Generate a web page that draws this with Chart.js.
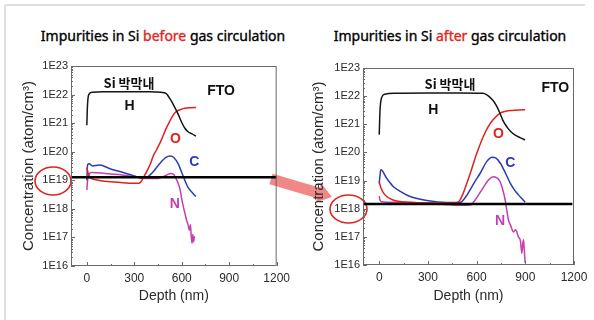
<!DOCTYPE html>
<html>
<head>
<meta charset="utf-8">
<script src="https://cdn.jsdelivr.net/npm/chart.js@4.4.1/dist/chart.umd.min.js"></script>
<style>
    body { margin: 0; width: 594px; height: 320px; background: #fff; position: relative; overflow: hidden; }
    .titulo { position: absolute; top: 26px; font: 400 14px "Noto Sans", "Liberation Sans", sans-serif; color: #000; white-space: nowrap; transform: translateX(-50%); line-height: 20px; -webkit-text-stroke: 0.35px #000; }
    .titulo span { color: #e5231b; -webkit-text-stroke: 0.35px #e5231b; }
    #grafico-antes { position: absolute; left: 0; top: 50px; }
    #grafico-depois { position: absolute; left: 295px; top: 50px; }
    #marcas { position: absolute; left: 0; top: 0; }
</style>
</head>
<body>
<svg id="marcas" width="594" height="320">
    <line x1="5" y1="5" x2="585" y2="5" stroke="#d4d4d4" stroke-width="1.5"/>
    <line x1="5" y1="5" x2="5" y2="320" stroke="#d4d4d4" stroke-width="1.5"/>
    <polygon points="272.6,173.7 320.2,187.7 321.4,183.4 332,197 315.8,202.6 317,198.3 269.4,184.3" fill="#ef7272" fill-opacity="0.85"/>
    <ellipse cx="53" cy="181" rx="18" ry="14" fill="none" stroke="#e2231f" stroke-width="1.6"/>
    <ellipse cx="348.5" cy="209" rx="18.5" ry="14" fill="none" stroke="#e2231f" stroke-width="1.6"/>
</svg>
<div class="titulo" style="left:163px">Impurities in Si <span>before</span> gas circulation</div>
<div class="titulo" style="left:450px">Impurities in Si <span>after</span> gas circulation</div>
<canvas id="grafico-antes" width="295" height="270"></canvas>
<canvas id="grafico-depois" width="299" height="270"></canvas>
<script>
// Eixos
const yTicks = [1e16, 1e17, 1e18, 1e19, 1e20, 1e21, 1e22, 1e23]
const yTickLabels = ['1E16', '1E17', '1E18', '1E19', '1E20', '1E21', '1E22', '1E23']
const xTicks = [0, 300, 600, 900, 1200]
const xTickLabels = ['0', '300', '600', '900', '1200']

// Antes (before) - profundidade (nm) e concentração (atom/cm3)
const antesDepthH = [0, 4, 12, 35, 100, 200, 300, 400, 470, 500, 530, 560, 580, 600, 620, 640, 665, 690]
const antesH = [8.5e20, 4.0e21, 1.0e22, 1.2e22, 1.26e22, 1.26e22, 1.26e22, 1.26e22, 1.2e22, 1.1e22, 6.5e21, 3.2e21, 1.9e21, 1.05e21, 6.6e20, 5.0e20, 4.2e20, 3.5e20]
const antesDepthO = [0, 8, 20, 50, 100, 200, 300, 330, 345, 360, 380, 400, 420, 440, 470, 500, 520, 540, 560, 590, 620, 660, 690]
const antesO = [2.8e19, 1.8e19, 1.26e19, 1.07e19, 9.5e18, 8.5e18, 7.8e18, 7.9e18, 9.3e18, 1.32e19, 2.1e19, 3.55e19, 7.1e19, 1.15e20, 2.5e20, 6.3e20, 1.05e21, 1.7e21, 2.4e21, 2.95e21, 3.3e21, 3.47e21, 3.55e21]
const antesDepthC = [0, 5, 15, 35, 80, 150, 250, 300, 350, 380, 420, 460, 500, 525, 550, 580, 610, 640, 670, 690]
const antesC = [1.0e19, 3.55e19, 3.8e19, 3.16e19, 3.4e19, 2.5e19, 1.74e19, 1.41e19, 1.17e19, 1.26e19, 2.0e19, 3.8e19, 6.3e19, 7.1e19, 6.3e19, 3.55e19, 1.35e19, 5.6e18, 3.55e18, 2.7e18]
const antesDepthN = [0, 5, 15, 30, 100, 200, 300, 350, 400, 450, 480, 510, 530, 550, 565, 580, 590, 600, 610, 620, 630, 640, 648, 655, 660, 665, 670, 675, 680]
const antesN = [4.6e18, 1.0e19, 1.66e19, 1.86e19, 1.78e19, 1.58e19, 1.32e19, 1.2e19, 1.15e19, 1.15e19, 1.32e19, 1.58e19, 1.74e19, 1.58e19, 1.12e19, 7.1e18, 4.6e18, 2.24e18, 1.2e18, 7.1e17, 4.1e17, 2.8e17, 1.8e17, 2.8e17, 1.12e17, 6.3e16, 1.26e17, 7.1e16, 1.12e17]
const antesRefDepth = [-100, 1200]
const antesRef = [1.27e19, 1.27e19]

// Depois (after)
const depoisDepthH = [0, 5, 15, 35, 100, 300, 500, 640, 670, 700, 720, 740, 765, 790, 810, 840, 870, 899]
const depoisH = [4.3e20, 3.2e21, 8.9e21, 1.17e22, 1.26e22, 1.29e22, 1.29e22, 1.26e22, 1.05e22, 7.1e21, 4.8e21, 2.8e21, 1.26e21, 7.6e20, 5.5e20, 4.0e20, 3.3e20, 2.8e20]
const depoisDepthO = [0, 10, 35, 86, 190, 300, 457, 490, 510, 540, 570, 600, 640, 670, 700, 745, 780, 817, 860, 899]
const depoisO = [8.9e18, 5.6e18, 3.1e18, 2.04e18, 1.7e18, 1.58e18, 1.58e18, 1.78e18, 2.8e18, 8.1e18, 2.63e19, 8.9e19, 3.55e20, 7.9e20, 1.41e21, 2.5e21, 2.9e21, 3.1e21, 3.24e21, 3.3e21]
const depoisDepthC = [0, 5, 10, 45, 86, 140, 190, 293, 416, 498, 530, 560, 590, 622, 663, 694, 720, 745, 775, 807, 835, 858, 880, 899]
const depoisC = [7.9e18, 1.58e19, 2.4e19, 1.23e19, 6.2e18, 3.8e18, 2.7e18, 1.95e18, 1.66e18, 1.66e18, 2.5e18, 4.7e18, 9.3e18, 1.82e19, 4.8e19, 6.8e19, 6.3e19, 4.2e19, 2.0e19, 8.1e18, 4.5e18, 3.1e18, 2.24e18, 1.7e18]
const depoisDepthN = [0, 5, 15, 100, 200, 300, 400, 457, 500, 560, 591, 632, 673, 704, 730, 745, 760, 776, 786, 796, 810, 827, 840, 858, 870, 879, 885, 889, 894, 899]
const depoisN = [2.8e18, 2.0e18, 1.78e18, 1.7e18, 1.66e18, 1.58e18, 1.41e18, 1.35e18, 1.32e18, 1.35e18, 2.04e18, 4.7e18, 1.05e19, 1.38e19, 1.2e19, 9.1e18, 5.0e18, 2.04e18, 8.9e17, 4.0e17, 2.5e17, 1.5e17, 1.78e17, 1.0e17, 7.1e16, 2.6e16, 6.3e16, 7.9e16, 3.2e16, 1.2e16]
const depoisRefDepth = [-100, 1190]
const depoisRef = [1.48e18, 1.48e18]

const cores = { H: '#151515', O: '#e3201b', C: '#2b3cb5', N: '#c23fae', ref: '#000000' }

function pontos(xs, ys) {
    return xs.map((x, i) => ({ x: x, y: ys[i] }))
}

function serie(xs, ys, cor, largura) {
    return {
        data: pontos(xs, ys),
        borderColor: cor,
        borderWidth: largura || 1.5,
        showLine: true,
        pointRadius: 0,
        cubicInterpolationMode: 'monotone'
    }
}

// Moldura com ticks para dentro + rótulos (H, O, C, N...)
const molduraPlugin = {
    id: 'moldura',
    afterDatasetsDraw(chart, args, opts) {
        const { ctx, chartArea: a, scales: { x, y } } = chart
        ctx.save()
        ctx.strokeStyle = '#6a6a6a'
        ctx.lineWidth = 1
        ctx.strokeRect(a.left + 0.5, a.top + 0.5, a.right - a.left - 1, a.bottom - a.top - 1)
        ctx.beginPath()
        for (let v = 0; v <= 1200; v += 150) {
            const px = Math.round(x.getPixelForValue(v)) + 0.5
            const len = v % 300 === 0 ? 4 : 2
            ctx.moveTo(px, a.bottom)
            ctx.lineTo(px, a.bottom - len)
        }
        for (let e = 16; e < 23; e++) {
            for (let m = 1; m < 10; m++) {
                const py = Math.round(y.getPixelForValue(m * Math.pow(10, e))) + 0.5
                const len = m === 1 ? 4 : 2
                ctx.moveTo(a.left, py)
                ctx.lineTo(a.left + len, py)
            }
        }
        ctx.stroke()

        ctx.textAlign = 'center'
        ctx.textBaseline = 'middle'
        opts.itens.forEach(item => {
            ctx.fillStyle = item.cor
            ctx.font = item.fonte
            ctx.fillText(item.texto, x.getPixelForValue(item.x), y.getPixelForValue(item.y))
        })
        ctx.restore()
    }
}

function opcoes(cfg) {
    return {
        responsive: false,
        animation: false,
        devicePixelRatio: 1,
        layout: { padding: { top: cfg.topo, right: cfg.direita, left: 0, bottom: 0 } },
        plugins: {
            legend: { display: false },
            tooltip: { enabled: false },
            moldura: { itens: cfg.itens }
        },
        scales: {
            x: {
                type: 'linear',
                min: -100,
                max: 1200,
                grid: { display: false, drawTicks: false },
                border: { display: false },
                afterBuildTicks: s => { s.ticks = xTicks.map(v => ({ value: v })) },
                afterFit: s => { s.height = cfg.alturaX },
                ticks: {
                    padding: 5,
                    color: '#2a2a2a',
                    font: { family: 'Liberation Sans', size: 12 },
                    callback: (v, i) => xTickLabels[i]
                },
                title: {
                    display: true,
                    text: 'Depth (nm)',
                    color: '#2a2a2a',
                    font: { family: 'Liberation Sans', size: 14 },
                    padding: { top: 0, bottom: 15 }
                }
            },
            y: {
                type: 'logarithmic',
                min: 1e16,
                max: 1e23,
                grid: { display: false, drawTicks: false },
                border: { display: false },
                afterBuildTicks: s => { s.ticks = yTicks.map(v => ({ value: v })) },
                afterFit: s => { s.width = cfg.larguraY },
                ticks: {
                    padding: 3,
                    color: '#2a2a2a',
                    font: { family: 'Liberation Sans', size: 11 },
                    callback: (v, i) => yTickLabels[i]
                },
                title: {
                    display: true,
                    text: 'Concentration (atom/cm³)',
                    color: '#2a2a2a',
                    font: { family: 'Liberation Sans', size: 15 },
                    padding: { top: cfg.tituloY, bottom: 0 }
                }
            }
        }
    }
}

const fonteRotulo = 'bold 14px "Liberation Sans", sans-serif'
const fonteCoreano = 'bold 13px "Noto Sans CJK KR", sans-serif'

new Chart(document.getElementById('grafico-antes'), {
    type: 'scatter',
    data: {
        datasets: [
            serie(antesRefDepth, antesRef, cores.ref, 2.5),
            serie(antesDepthH, antesH, cores.H),
            serie(antesDepthO, antesO, cores.O),
            serie(antesDepthC, antesC, cores.C),
            serie(antesDepthN, antesN, cores.N)
        ]
    },
    plugins: [molduraPlugin],
    options: opcoes({
        topo: 16, direita: 6, alturaX: 54, larguraY: 71, tituloY: 20,
        itens: [
            { texto: 'Si 박막내', x: 267, y: 2.5e22, cor: '#111', fonte: fonteCoreano },
            { texto: 'H', x: 270, y: 3.8e21, cor: '#111', fonte: fonteRotulo },
            { texto: 'FTO', x: 849, y: 1.3e22, cor: '#111', fonte: fonteRotulo },
            { texto: 'O', x: 560, y: 2.8e20, cor: cores.O, fonte: fonteRotulo },
            { texto: 'C', x: 680, y: 4.2e19, cor: cores.C, fonte: fonteRotulo },
            { texto: 'N', x: 556, y: 1.5e18, cor: cores.N, fonte: fonteRotulo }
        ]
    })
})

new Chart(document.getElementById('grafico-depois'), {
    type: 'scatter',
    data: {
        datasets: [
            serie(depoisRefDepth, depoisRef, cores.ref, 2.5),
            serie(depoisDepthH, depoisH, cores.H),
            serie(depoisDepthO, depoisO, cores.O),
            serie(depoisDepthC, depoisC, cores.C),
            serie(depoisDepthN, depoisN, cores.N)
        ]
    },
    plugins: [molduraPlugin],
    options: opcoes({
        topo: 18, direita: 20, alturaX: 55, larguraY: 68, tituloY: 15,
        itens: [
            { texto: 'Si 박막내', x: 436, y: 2.6e22, cor: '#111', fonte: fonteCoreano },
            { texto: 'H', x: 333, y: 3.3e21, cor: '#111', fonte: fonteRotulo },
            { texto: 'FTO', x: 1085, y: 1.95e22, cor: '#111', fonte: fonteRotulo },
            { texto: 'O', x: 735, y: 4.3e20, cor: cores.O, fonte: fonteRotulo },
            { texto: 'C', x: 807, y: 4.2e19, cor: cores.C, fonte: fonteRotulo },
            { texto: 'N', x: 745, y: 3.5e17, cor: cores.N, fonte: fonteRotulo }
        ]
    })
})
</script>
</body>
</html>
